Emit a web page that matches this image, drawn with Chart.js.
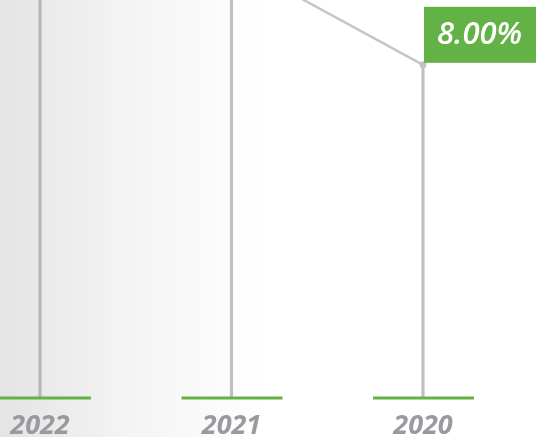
<!DOCTYPE html>
<html>
<head>
<meta charset="utf-8">
<script src="https://cdn.jsdelivr.net/npm/chart.js@4"></script>
<style>
    html, body { margin: 0; padding: 0; background: #ffffff; }
    #wrap {
        width: 536px;
        height: 437px;
        background: linear-gradient(to right, #e4e4e4 0px, #f3f3f3 120px, #ffffff 265px);
    }
</style>
</head>
<body>
<div id="wrap"><canvas id="rateChart"></canvas></div>
<script>
// chart data
const years = ['2022', '2021', '2020'];
const rates = [12.5, 10.5, 8.0];

const yMin = 0;
const yMax = 9.46;

// green box with the value, sits on top-right of each point
const valueBoxes = {
    id: 'valueBoxes',
    afterDatasetsDraw(chart) {
        const ctx = chart.ctx;
        const meta = chart.getDatasetMeta(1);
        ctx.save();
        meta.data.forEach(function(pt, i) {
            const text = rates[i].toFixed(2) + '%';
            ctx.font = 'italic 600 31px "Open Sans"';
            const w = ctx.measureText(text).width + 40;
            ctx.fillStyle = '#62b245';
            ctx.fillRect(pt.x + 1, pt.y - 58, w, 56);
            ctx.fillStyle = '#ffffff';
            ctx.textBaseline = 'middle';
            ctx.textAlign = 'left';
            ctx.fillText(text, pt.x + 14, pt.y - 30);
        });
        ctx.restore();
    }
};

// short green base segments under each year
const baseMarks = {
    id: 'baseMarks',
    afterDatasetsDraw(chart) {
        const ctx = chart.ctx;
        const xs = chart.scales.x;
        const y0 = chart.scales.y.getPixelForValue(0);
        ctx.save();
        ctx.fillStyle = '#62b245';
        years.forEach(function(y, i) {
            const px = xs.getPixelForValue(i);
            ctx.fillRect(px - 50, y0 - 1.5, 101, 3);
        });
        ctx.restore();
    }
};

const config = {
    type: 'line',
    data: {
        labels: years,
        datasets: [{
            type: 'bar',
            label: 'drop',
            data: rates,
            backgroundColor: 'rgba(150,150,150,0.6)',
            barThickness: 2.5,
            clip: false,
            order: 2
        }, {
            type: 'line',
            label: 'Rate',
            data: rates,
            borderColor: 'rgba(160,160,160,0.6)',
            borderWidth: 2.5,
            pointRadius: 3.5,
            pointBackgroundColor: '#c2c2c2',
            pointBorderWidth: 0,
            tension: 0,
            clip: false,
            order: 1
        }]
    },
    options: {
        responsive: true,
        maintainAspectRatio: false,
        animation: false,
        layout: {
            padding: { left: 40, right: 113, top: 0, bottom: 0 }
        },
        plugins: {
            legend: { display: false },
            tooltip: { enabled: false }
        },
        scales: {
            x: {
                offset: false,
                grid: { display: false, drawTicks: false },
                border: { display: false },
                ticks: {
                    padding: 17,
                    color: '#9a9a9e',
                    font: { family: 'Open Sans', size: 27, style: 'italic', weight: 'bold', lineHeight: 22 / 27 }
                },
                afterFit: function(scale) {
                    scale.height = 39;
                    scale.paddingLeft = 0;
                    scale.paddingRight = 0;
                }
            },
            y: {
                display: false,
                min: yMin,
                max: yMax
            }
        }
    },
    plugins: [baseMarks, valueBoxes]
};

new Chart(document.getElementById('rateChart'), config);
</script>
</body>
</html>
